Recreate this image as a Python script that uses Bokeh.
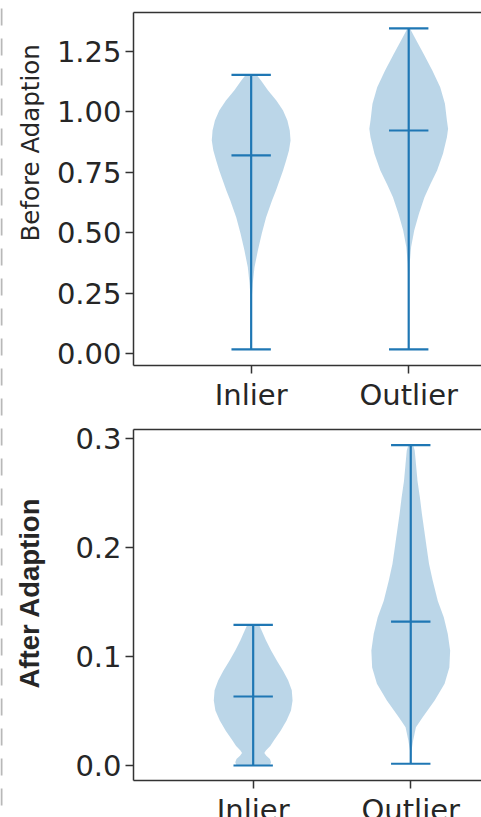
import numpy as np
from bokeh.plotting import figure
from bokeh.models import Range1d, FixedTicker, LinearAxis
from bokeh.core.properties import value
from bokeh.layouts import row, column
from bokeh.embed import file_html
from bokeh.resources import INLINE

# ---------------- data ----------------
categories = ["Inlier", "Outlier"]
positions = [1, 2]
panel_labels = ["Before Adaption", "After Adaption"]

# panel 1: Before Adaption
before_ticks = [0.0, 0.25, 0.5, 0.75, 1.0, 1.25]
before_tick_labels = ["0.00", "0.25", "0.50", "0.75", "1.00", "1.25"]
before_min = [0.017, 0.017]
before_max = [1.153, 1.346]
before_center = [0.820, 0.923]
before_inlier_y = [0.017, 0.10, 0.22, 0.29, 0.357, 0.426, 0.497, 0.564, 0.633, 0.675, 0.716,
                   0.757, 0.80, 0.84, 0.882, 0.923, 0.964, 1.006, 1.047, 1.089, 1.13, 1.153]
before_inlier_w = [0.0, 0.005, 0.012, 0.04, 0.085, 0.17, 0.27, 0.38, 0.53, 0.63, 0.72,
                   0.81, 0.89, 0.96, 1.0, 0.98, 0.92, 0.81, 0.64, 0.43, 0.25, 0.14]
before_outlier_y = [0.017, 0.15, 0.30, 0.372, 0.44, 0.509, 0.578, 0.647, 0.70, 0.757, 0.827,
                    0.895, 0.93, 0.964, 1.034, 1.102, 1.171, 1.24, 1.309, 1.346]
before_outlier_w = [0.0, 0.003, 0.012, 0.025, 0.06, 0.14, 0.26, 0.40, 0.55, 0.72, 0.87,
                    0.97, 1.0, 0.97, 0.92, 0.80, 0.60, 0.38, 0.15, 0.03]

# panel 2: After Adaption
after_ticks = [0.0, 0.1, 0.2, 0.3]
after_tick_labels = ["0.0", "0.1", "0.2", "0.3"]
after_min = [0.0, 0.0016]
after_max = [0.129, 0.294]
after_center = [0.0633, 0.132]
after_inlier_y = [0.0, 0.003, 0.006, 0.009, 0.0115, 0.0138, 0.018, 0.023, 0.032, 0.0413, 0.0505,
                  0.0596, 0.069, 0.078, 0.087, 0.096, 0.1055, 0.115, 0.124, 0.129]
after_inlier_w = [0.42, 0.45, 0.42, 0.33, 0.28, 0.32, 0.43, 0.52, 0.69, 0.84, 0.95,
                  0.99, 0.97, 0.88, 0.75, 0.60, 0.45, 0.32, 0.21, 0.15]
after_outlier_y = [0.0016, 0.014, 0.023, 0.035, 0.0443, 0.0596, 0.075, 0.09, 0.1055, 0.121, 0.136,
                   0.151, 0.17, 0.185, 0.2, 0.2156, 0.231, 0.246, 0.261, 0.277, 0.289, 0.294]
after_outlier_w = [0.0, 0.02, 0.06, 0.13, 0.30, 0.60, 0.85, 0.97, 0.99, 0.93, 0.83,
                   0.68, 0.55, 0.46, 0.40, 0.34, 0.28, 0.23, 0.17, 0.13, 0.10, 0.06]

# ---------------- style / layout ----------------
BLUE = "#1f77b4"
AXIS_COL = "#333333"
TEXT_COL = "#262626"
TICK_FONT = "DejaVu Sans"
TICK_SIZE = "29px"
DASH_W = 3
LABEL_W = 50
TOTAL_W = 481
TOTAL_H = 850
FRAME_LEFT = 132
X0 = DASH_W + LABEL_W


def make_panel(height, frame_top, frame_bottom, x_range, y_range,
               ticks, tick_labels, profiles, mins, maxs, centers, page_top):
    fig_w = TOTAL_W - X0
    p = figure(width=fig_w, height=height, x_range=Range1d(*x_range), y_range=Range1d(*y_range),
               output_backend="svg", toolbar_location=None,
               min_border_left=FRAME_LEFT - X0, min_border_right=0,
               min_border_top=frame_top - page_top,
               min_border_bottom=height - (frame_bottom - page_top))
    p.outline_line_color = None
    p.grid.visible = False
    p.background_fill_color = "white"
    p.border_fill_color = "white"

    # violins
    for pos, (ys, ws) in zip(positions, profiles):
        ys = np.asarray(ys, dtype=float)
        ws = np.asarray(ws, dtype=float)
        hw = 0.25 * ws / ws.max()
        xs = np.concatenate([pos - hw, (pos + hw)[::-1]])
        yy = np.concatenate([ys, ys[::-1]])
        p.patch(xs, yy, fill_color=BLUE, fill_alpha=0.3, line_color=None)

    pos_arr = np.asarray(positions, dtype=float)
    p.segment(x0=pos_arr, y0=mins, x1=pos_arr, y1=maxs, line_color=BLUE, line_width=2.2)
    for vals in (mins, maxs, centers):
        p.segment(x0=pos_arr - 0.125, y0=vals, x1=pos_arr + 0.125, y1=vals,
                  line_color=BLUE, line_width=2.2)

    # axes
    for ax in (p.xaxis[0], p.yaxis[0]):
        ax.axis_line_color = AXIS_COL
        ax.axis_line_width = 1.5
        ax.major_tick_line_color = AXIS_COL
        ax.major_tick_line_width = 1.5
        ax.major_tick_in = 0
        ax.major_tick_out = 8
        ax.minor_tick_in = 0
        ax.minor_tick_out = 0
        ax.major_label_text_font = TICK_FONT
        ax.major_label_text_font_size = TICK_SIZE
        ax.major_label_text_color = TEXT_COL
        ax.major_label_standoff = 4

    p.xaxis[0].ticker = FixedTicker(ticks=positions)
    p.xaxis[0].major_label_overrides = {pos: c for pos, c in zip(positions, categories)}
    p.yaxis[0].ticker = FixedTicker(ticks=ticks)
    p.yaxis[0].major_label_overrides = {t: l for t, l in zip(ticks, tick_labels)}

    top_axis = LinearAxis(ticker=FixedTicker(ticks=[]), major_label_text_font_size="0px",
                          major_tick_out=0, major_tick_in=0, minor_tick_out=0, minor_tick_in=0,
                          axis_line_color=AXIS_COL, axis_line_width=1.5)
    p.add_layout(top_axis, "above")
    return p


top = make_panel(height=420, frame_top=12, frame_bottom=365,
                 x_range=(0.2532, 2.462), y_range=(-0.0497, 1.4114),
                 ticks=before_ticks, tick_labels=before_tick_labels,
                 profiles=[(before_inlier_y, before_inlier_w), (before_outlier_y, before_outlier_w)],
                 mins=before_min, maxs=before_max, centers=before_center, page_top=0)

bottom = make_panel(height=430, frame_top=429, frame_bottom=780,
                    x_range=(0.2405, 2.449), y_range=(-0.01376, 0.3083),
                    ticks=after_ticks, tick_labels=after_tick_labels,
                    profiles=[(after_inlier_y, after_inlier_w), (after_outlier_y, after_outlier_w)],
                    mins=after_min, maxs=after_max, centers=after_center, page_top=420)

# ---- strip holding the two vertical y-labels (x and y in page pixels) ----
lab = figure(width=LABEL_W, height=TOTAL_H, x_range=Range1d(DASH_W, X0), y_range=Range1d(0, TOTAL_H),
             output_backend="svg", toolbar_location=None,
             min_border_left=0, min_border_right=0, min_border_top=0, min_border_bottom=0)
lab.axis.visible = False
lab.grid.visible = False
lab.outline_line_color = None
lab.text(x=[29.5], y=[TOTAL_H - 241], text=[panel_labels[0]], angle=np.pi / 2,
         text_align="left", text_baseline="alphabetic",
         text_font=value("DejaVu Sans"), text_font_size="24.5px", text_color=TEXT_COL)
lab.text(x=[29.0], y=[TOTAL_H - 688], text=[panel_labels[1]], angle=np.pi / 2,
         text_align="left", text_baseline="alphabetic",
         text_font=value("Liberation Sans"), text_font_style="bold",
         text_font_size="27.5px", text_color=TEXT_COL)

# dashed separator on the far left
dash = figure(width=DASH_W, height=TOTAL_H, x_range=Range1d(0, DASH_W), y_range=Range1d(0, TOTAL_H),
              output_backend="svg", toolbar_location=None,
              min_border_left=0, min_border_right=0, min_border_top=0, min_border_bottom=0)
dash.axis.visible = False
dash.grid.visible = False
dash.outline_line_color = None
dash.segment(x0=[1], y0=[TOTAL_H], x1=[1], y1=[0], line_color="#b8b8b8", line_width=2,
             line_dash="17 13", line_dash_offset=22)

layout = row(dash, lab, column(top, bottom, spacing=0), spacing=0)

open("out.html", "w").write(file_html(layout, INLINE))
